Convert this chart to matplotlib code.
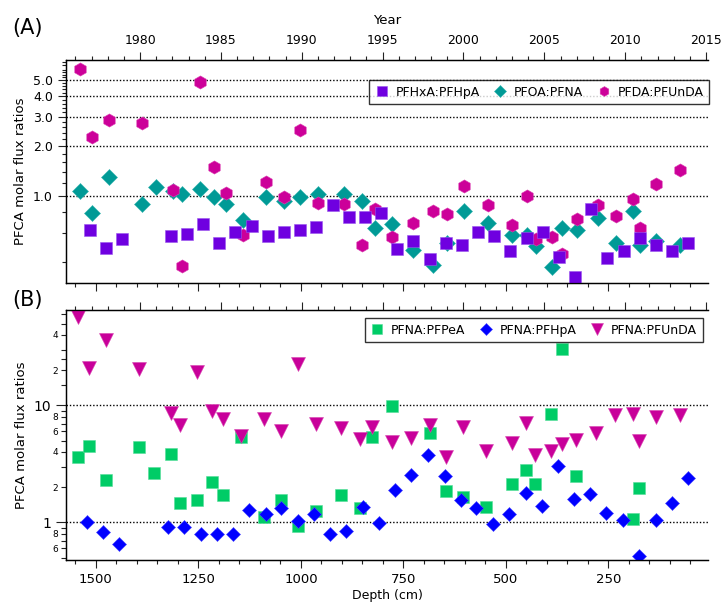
import numpy as np
import matplotlib.pyplot as plt
from matplotlib.ticker import FixedLocator, FuncFormatter, NullFormatter

plt.rcParams['font.family'] = ['DejaVu Sans']

# (A) ratios against year
hxa_year = [1976.9, 1977.9, 1978.9, 1981.9, 1982.9, 1983.9, 1984.9, 1985.9, 1986.9,
            1987.9, 1988.9, 1989.9, 1990.9, 1991.9, 1992.9, 1993.9, 1994.9, 1995.9,
            1996.9, 1997.9, 1998.9, 1999.9, 2000.9, 2001.9, 2002.9, 2003.9, 2004.9,
            2005.9, 2006.9, 2007.9, 2008.9, 2009.9, 2010.9, 2011.9, 2012.9, 2013.9]
hxa_hpa = [0.627, 0.486, 0.55, 0.577, 0.59, 0.68, 0.52, 0.61, 0.665,
           0.577, 0.607, 0.627, 0.656, 0.886, 0.754, 0.747, 0.79, 0.48,
           0.538, 0.418, 0.525, 0.51, 0.607, 0.577, 0.47, 0.558, 0.612,
           0.43, 0.328, 0.835, 0.427, 0.47, 0.558, 0.51, 0.47, 0.525]

pfoa_year = [1976.3, 1977.0, 1978.1, 1980.1, 1981.0, 1982.05, 1982.6, 1983.7, 1984.6,
             1985.3, 1986.35, 1987.8, 1988.9, 1989.9, 1991.0, 1992.6, 1993.7, 1994.5,
             1995.6, 1996.9, 1998.1, 1999.0, 2000.05, 2001.5, 2003.0, 2003.9, 2004.5,
             2005.5, 2006.1, 2007.0, 2008.3, 2009.4, 2010.5, 2010.9, 2011.9, 2013.4]
pfoa_pfna = [1.08, 0.79, 1.30, 0.90, 1.14, 1.07, 1.03, 1.10, 0.99,
             0.90, 0.72, 0.99, 0.93, 0.99, 1.03, 1.03, 0.93, 0.64,
             0.68, 0.475, 0.385, 0.52, 0.82, 0.69, 0.585, 0.585, 0.50,
             0.376, 0.64, 0.63, 0.74, 0.52, 0.82, 0.51, 0.54, 0.51]

pfda_year = [1976.3, 1977.0, 1978.1, 1980.1, 1982.05, 1982.6, 1983.7, 1984.6, 1985.3,
             1986.35, 1987.8, 1988.9, 1989.9, 1991.0, 1992.6, 1993.7, 1994.5, 1995.6,
             1996.9, 1998.1, 1999.0, 2000.05, 2001.5, 2003.0, 2003.9, 2004.5, 2005.5,
             2006.1, 2007.0, 2008.3, 2009.4, 2010.5, 2010.9, 2011.9, 2013.4]
pfda_pfunda = [5.82, 2.29, 2.88, 2.75, 1.09, 0.38, 4.86, 1.50, 1.04,
               0.58, 1.22, 0.99, 2.51, 0.91, 0.90, 0.51, 0.835, 0.57,
               0.69, 0.81, 0.78, 1.15, 0.88, 0.67, 1.01, 0.55, 0.57,
               0.45, 0.73, 0.886, 0.76, 0.96, 0.64, 1.19, 1.44]

# (B) ratios against core depth (cm)
pfpea_depth = [1544, 1516, 1475, 1396, 1359, 1318, 1294, 1253, 1217, 1189, 1146,
               1089, 1048, 1006, 964, 901, 857, 826, 779, 684, 647, 605, 548,
               485, 452, 428, 389, 362, 330, 190, 175]
pfna_pfpea = [3.65, 4.47, 2.30, 4.38, 2.64, 3.85, 1.46, 1.55, 2.23, 1.71, 5.34,
              1.12, 1.55, 0.93, 1.25, 1.71, 1.34, 5.34, 9.8, 5.79, 1.86, 1.66, 1.36,
              2.13, 2.82, 2.13, 8.37, 30.1, 2.47, 1.07, 1.97]

pfhpa_depth = [1522, 1483, 1443, 1325, 1286, 1243, 1205, 1166, 1127, 1086, 1048, 1007,
               967, 928, 889, 849, 810, 770, 731, 690, 649, 610, 572, 531,
               492, 452, 413, 373, 334, 294, 255, 214, 175, 135, 96, 55]
pfna_pfhpa = [1.0, 0.83, 0.65, 0.915, 0.92, 0.80, 0.80, 0.80, 1.27, 1.19, 1.34, 1.02,
              1.18, 0.80, 0.845, 1.36, 0.98, 1.89, 2.56, 3.80, 2.47, 1.56, 1.34, 0.976,
              1.19, 1.77, 1.37, 3.01, 1.60, 1.75, 1.2, 1.05, 0.515, 1.05, 1.46, 2.38]

pfunda_depth = [1544, 1516, 1475, 1396, 1318, 1294, 1253, 1217, 1189, 1146, 1089, 1048,
                1006, 964, 901, 857, 826, 779, 731, 684, 647, 605, 548, 485,
                452, 428, 389, 362, 330, 279, 233, 191, 175, 133, 76]
pfna_pfunda = [56.6, 20.9, 36.1, 20.4, 8.59, 6.74, 19.3, 8.88, 7.69, 5.53, 7.69, 6.10,
               22.8, 6.87, 6.44, 5.18, 6.6, 4.9, 5.28, 6.74, 3.6, 6.5, 4.05, 4.75,
               7.06, 3.8, 4.1, 4.69, 5.07, 5.83, 8.21, 8.51, 4.94, 7.94, 8.33]

year_lim = (1975.42, 2015.12)
depth_lim = (1573, 7)

W, H = 722, 609
fig = plt.figure(figsize=(W / 100, H / 100), dpi=100)


def add_axes_px(left, top, right, bottom):
    return fig.add_axes([left / W, 1 - bottom / H, (right - left) / W, (bottom - top) / H])


def style_frame(ax):
    ax.spines['right'].set_visible(False)
    for s in ax.spines.values():
        s.set_linewidth(0.9)
    ax.tick_params(which='both', direction='out', width=0.8, color='#222222')
    ax.tick_params(which='major', length=6)
    ax.tick_params(which='minor', length=3)


def year_ticks(ax, labels):
    ax.set_xlim(*year_lim)
    ax.xaxis.set_major_locator(FixedLocator(range(1980, 2016, 5)))
    ax.xaxis.set_minor_locator(FixedLocator(range(1976, 2016)))
    ax.tick_params(axis='x', labelsize=9, labeltop=labels, labelbottom=False)


def depth_ticks(ax, labels):
    ax.set_xlim(*depth_lim)
    ax.xaxis.set_major_locator(FixedLocator([1500, 1250, 1000, 750, 500, 250]))
    ax.xaxis.set_minor_locator(FixedLocator(range(50, 1600, 50)))
    ax.tick_params(axis='x', labelsize=9.5, labelbottom=labels, labeltop=False)


def dotted(ax, levels):
    for v in levels:
        ax.axhline(v, color='black', lw=1.0, ls=(0, (1, 1.4)), zorder=0.5)


def boxed_legend(ax, handles, anchor, scale):
    leg = ax.legend(handles=handles, ncol=3, loc='upper right',
                    bbox_to_anchor=anchor, borderaxespad=0, fontsize=9,
                    frameon=True, fancybox=False, edgecolor='black', markerscale=scale,
                    handlelength=1.1, handletextpad=0.55, columnspacing=1.1,
                    borderpad=0.45)
    leg.get_frame().set_linewidth(1.0)
    leg.set_zorder(10)
    return leg


# ---- panel A ----
axA = add_axes_px(66, 60, 708, 283)
twA = axA.twiny()
axA.xaxis.tick_top()
axA.xaxis.set_label_position('top')
twA.xaxis.tick_bottom()
for a in (axA, twA):
    style_frame(a)
year_ticks(axA, True)
depth_ticks(twA, False)
axA.set_xlabel('Year', fontsize=9.5, labelpad=7)

axA.set_yscale('log')
axA.set_ylim(0.30, 6.62)
axA.yaxis.set_major_locator(FixedLocator([1, 2, 3, 4, 5]))
axA.yaxis.set_major_formatter(FuncFormatter(lambda v, p: f'{v:.1f}'))
minA = [0.4, 0.6, 0.8] + [round(x, 1) for x in np.arange(1.2, 6.5, 0.2) if abs(x - round(x)) > 0.05]
axA.yaxis.set_minor_locator(FixedLocator(minA))
axA.yaxis.set_minor_formatter(NullFormatter())
axA.tick_params(axis='y', labelsize=9)
axA.set_ylabel('PFCA molar flux ratios', fontsize=9.5, labelpad=4)
dotted(axA, [1, 2, 3, 4, 5])

hB, = axA.plot(pfoa_year, pfoa_pfna, ls='none', marker='D', ms=7.8, color='#009a96',
               mec='#33b3ae', mew=0.4, zorder=3, label='PFOA:PFNA')
hC, = axA.plot(pfda_year, pfda_pfunda, ls='none', marker='h', ms=9.5, color='#cc0099',
               mec='#dd44b4', mew=0.4, zorder=4, label='PFDA:PFUnDA')
hA, = axA.plot(hxa_year, hxa_hpa, ls='none', marker='s', ms=9.3, color='#6f00e0',
               mec='#9a55ee', mew=0.4, zorder=5, label='PFHxA:PFHpA')
boxed_legend(axA, [hA, hB, hC], (1.002, 0.91), 0.75)
fig.text(12 / W, 1 - 28 / H, '(A)', fontsize=15, va='center', ha='left')

# ---- panel B ----
axB = add_axes_px(66, 310, 708, 560)
twB = axB.twiny()
for a in (axB, twB):
    style_frame(a)
depth_ticks(axB, True)
year_ticks(twB, False)
axB.set_xlabel('Depth (cm)', fontsize=9, labelpad=2)

axB.set_yscale('log')
axB.set_ylim(0.477, 65.4)
axB.yaxis.set_major_locator(FixedLocator([1, 10]))
axB.yaxis.set_major_formatter(FuncFormatter(lambda v, p: f'{v:g}'))
minB = [0.5, 0.6, 0.7, 0.8, 0.9, 2, 3, 4, 5, 6, 7, 8, 9, 15, 20, 25, 30, 40, 50, 60]
minB_labels = {0.6: '6', 0.8: '8', 2: '2', 4: '4', 6: '6', 8: '8', 20: '2', 40: '4'}
axB.yaxis.set_minor_locator(FixedLocator(minB))
axB.yaxis.set_minor_formatter(FuncFormatter(lambda v, p: minB_labels.get(round(v, 2), '')))
axB.tick_params(axis='y', which='major', labelsize=10, length=7)
axB.tick_params(axis='y', which='minor', labelsize=6.5, length=3.5, pad=2)
axB.set_ylabel('PFCA molar flux ratios', fontsize=9.5, labelpad=4)
dotted(axB, [1, 10])

g, = axB.plot(pfpea_depth, pfna_pfpea, ls='none', marker='s', ms=8.3, color='#00cc66',
              mec='#55dd99', mew=0.4, zorder=3, label='PFNA:PFPeA')
b, = axB.plot(pfhpa_depth, pfna_pfhpa, ls='none', marker='D', ms=6.8, color='#0000ff',
              mec='#4444ff', mew=0.4, zorder=4, label='PFNA:PFHpA')
t, = axB.plot(pfunda_depth, pfna_pfunda, ls='none', marker='v', ms=9.5, color='#c8009a',
              mec='#d844b0', mew=0.4, zorder=5, label='PFNA:PFUnDA')
boxed_legend(axB, [g, b, t], (0.992, 0.968), 0.85)
fig.text(12 / W, 1 - 300 / H, '(B)', fontsize=15, va='center', ha='left')

fig.savefig('out.png', dpi=100)
